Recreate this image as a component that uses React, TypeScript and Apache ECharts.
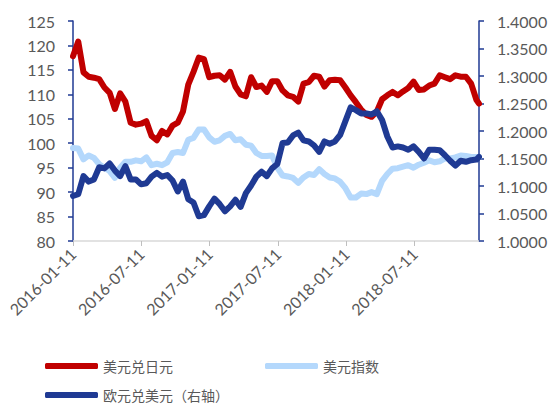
import React, { useEffect, useRef } from 'react';
import * as echarts from 'echarts';

const startDate = '2016-01-11';
const endDate = '2018-12-31';

const xTickLabels = ['2016-01-11', '2016-07-11', '2017-01-11', '2017-07-11', '2018-01-11', '2018-07-11'];

const dates = [
  '2016-01-11', '2016-01-25', '2016-02-08', '2016-02-22', '2016-03-07', '2016-03-21', '2016-04-04', '2016-04-18',
  '2016-05-02', '2016-05-16', '2016-05-30', '2016-06-13', '2016-06-27', '2016-07-11', '2016-07-25', '2016-08-08',
  '2016-08-22', '2016-09-05', '2016-09-19', '2016-10-03', '2016-10-17', '2016-10-31', '2016-11-14', '2016-11-28',
  '2016-12-12', '2016-12-26',
  '2017-01-09', '2017-01-23', '2017-02-06', '2017-02-20', '2017-03-06', '2017-03-20', '2017-04-03', '2017-04-17',
  '2017-05-01', '2017-05-15', '2017-05-29', '2017-06-12', '2017-06-26', '2017-07-10', '2017-07-24', '2017-08-07',
  '2017-08-21', '2017-09-04', '2017-09-18', '2017-10-02', '2017-10-16', '2017-10-30', '2017-11-13', '2017-11-27',
  '2017-12-11', '2017-12-25',
  '2018-01-08', '2018-01-22', '2018-02-05', '2018-02-19', '2018-03-05', '2018-03-19', '2018-04-02', '2018-04-16',
  '2018-04-30', '2018-05-14', '2018-05-28', '2018-06-11', '2018-06-25', '2018-07-09', '2018-07-23', '2018-08-06',
  '2018-08-20', '2018-09-03', '2018-09-17', '2018-10-01', '2018-10-15', '2018-10-29', '2018-11-12', '2018-11-26',
  '2018-12-10', '2018-12-24', '2018-12-31',
];

const usdJpy = [
  117.8, 120.8, 114.5, 113.6, 113.4, 113.1, 111.4, 110.3, 107.0, 110.2,
  108.5, 104.2, 103.8, 104.0, 104.5, 101.5, 100.6, 102.5, 101.8, 103.6,
  104.2, 106.5, 112.0, 114.6, 117.5, 117.2, 113.5, 113.8, 113.9, 113.0,
  114.6, 111.6, 110.0, 109.6, 113.5, 111.5, 111.8, 110.5, 112.7, 112.7,
  110.8, 109.8, 109.5, 108.5, 112.2, 112.5, 113.8, 113.6, 111.6, 112.9,
  113.0, 112.9, 111.4, 109.8, 108.4, 106.9, 105.8, 105.4, 106.5, 109.0,
  109.8, 110.5, 109.8, 110.6, 111.3, 112.6, 110.9, 111.0, 111.8, 112.2,
  113.9, 113.5, 113.1, 113.9, 113.6, 113.6, 112.2, 108.9, 108.1,
];

const usdIndex = [
  99.0, 98.9, 96.7, 97.5, 97.0, 95.7, 95.0, 94.3, 92.9, 95.0,
  96.2, 96.2, 96.5, 96.3, 97.1, 95.5, 95.8, 95.5, 96.1, 98.0,
  98.2, 98.0, 100.7, 101.1, 102.8, 102.8, 101.2, 100.3, 100.6, 101.5,
  101.9, 100.6, 100.8, 99.7, 99.5, 98.0, 97.4, 97.4, 97.5, 95.0,
  93.4, 93.2, 92.9, 91.9, 93.0, 93.7, 93.5, 94.7, 93.7, 93.0,
  92.8, 92.1, 90.8, 88.9, 88.9, 89.7, 89.6, 90.0, 89.6, 92.3,
  93.7, 94.8, 94.9, 95.2, 95.5, 95.0, 95.6, 96.0, 96.5, 96.1,
  96.3, 96.9, 96.9, 97.1, 97.5, 97.4, 97.2, 97.2, 97.2,
];

const eurUsd = [
  1.082, 1.085, 1.118, 1.108, 1.112, 1.134, 1.132, 1.141, 1.128, 1.118,
  1.136, 1.112, 1.112, 1.103, 1.105, 1.117, 1.124, 1.117, 1.120, 1.110,
  1.090, 1.108, 1.076, 1.070, 1.045, 1.047, 1.063, 1.077, 1.067, 1.054,
  1.063, 1.075, 1.062, 1.087, 1.101, 1.117, 1.126, 1.118, 1.132, 1.140,
  1.178, 1.179, 1.192, 1.197, 1.183, 1.181, 1.174, 1.162, 1.181, 1.177,
  1.181, 1.193, 1.218, 1.243, 1.238, 1.232, 1.232, 1.230, 1.236, 1.220,
  1.190, 1.170, 1.172, 1.170, 1.166, 1.172, 1.162, 1.150, 1.166, 1.166,
  1.165, 1.156, 1.146, 1.137, 1.146, 1.144, 1.147, 1.148, 1.153,
];

const seriesNames = ['美元兑日元', '美元指数', '欧元兑美元（右轴）'];

export default function App() {
  const ref = useRef<HTMLDivElement>(null);
  useEffect(() => {
    document.body.style.margin = '0';
    const chart = echarts.init(ref.current!, null, { renderer: 'svg' });
    const toDay = (d: string) => (Date.parse(d) - Date.parse(startDate)) / 86400000;
    const pts = (vals: number[]) => dates.map((d, i) => [toDay(d), vals[i]]);
    const labelColor = '#595959';
    const axisBlue = '#1F3A93';
    const step = 182.5;
    const legendText = { color: labelColor, fontSize: 14, fontFamily: 'Noto Sans CJK SC', lineHeight: 14 };
    const lineSeries = (name: string, vals: number[], color: string, yIdx: number) => ({
      name,
      type: 'line',
      yAxisIndex: yIdx,
      data: pts(vals),
      showSymbol: false,
      symbol: 'none',
      color,
      lineStyle: { color, width: 6, cap: 'round', join: 'round' },
    });
    chart.setOption({
      animation: false,
      grid: { left: 73, right: 72, top: 21, height: 220 },
      xAxis: {
        type: 'value',
        min: 0,
        max: toDay(endDate),
        interval: step,
        axisLine: { show: true, lineStyle: { color: '#D9D9D9', width: 1.5 } },
        axisTick: { show: true, length: 5, lineStyle: { color: '#BFBFBF' } },
        splitLine: { show: false },
        axisLabel: {
          rotate: 45,
          margin: 10,
          color: labelColor,
          fontFamily: 'Lato',
          fontSize: 16,
          showMaxLabel: false,
          formatter: (v: number) => {
            const i = Math.round(v / step);
            if (Math.abs(v - i * step) > 0.01 || i >= xTickLabels.length) return '';
            return xTickLabels[i];
          },
        },
      },
      yAxis: [
        {
          type: 'value',
          min: 80,
          max: 125,
          interval: 5,
          position: 'left',
          axisLine: { show: true, lineStyle: { color: axisBlue, width: 1.5 } },
          axisTick: { show: true, length: 5, lineStyle: { color: axisBlue, width: 1.5 } },
          splitLine: { show: false },
          axisLabel: { margin: 18, color: labelColor, fontFamily: 'Lato', fontSize: 16 },
        },
        {
          type: 'value',
          min: 1,
          max: 1.4,
          interval: 0.05,
          position: 'right',
          axisLine: { show: true, lineStyle: { color: axisBlue, width: 1.5 } },
          axisTick: { show: true, length: 5, lineStyle: { color: axisBlue, width: 1.5 } },
          splitLine: { show: false },
          axisLabel: {
            margin: 18,
            color: labelColor,
            fontFamily: 'Lato',
            fontSize: 16,
            formatter: (v: number) => v.toFixed(4),
          },
        },
      ],
      legend: [
        {
          left: 45,
          top: 359,
          padding: 0,
          itemWidth: 53,
          itemHeight: 6,
          itemGap: 92,
          icon: 'roundRect',
          selectedMode: false,
          data: [seriesNames[0], seriesNames[1]],
          textStyle: legendText,
        },
        {
          left: 45,
          top: 388,
          padding: 0,
          itemWidth: 53,
          itemHeight: 6,
          icon: 'roundRect',
          selectedMode: false,
          data: [seriesNames[2]],
          textStyle: legendText,
        },
      ],
      series: [
        lineSeries(seriesNames[0], usdJpy, '#C00000', 0),
        lineSeries(seriesNames[1], usdIndex, '#B4D8FC', 0),
        lineSeries(seriesNames[2], eurUsd, '#1F3A93', 1),
      ],
    });
    return () => chart.dispose();
  }, []);
  return <div ref={ref} style={{ width: 551, height: 407 }} />;
}
